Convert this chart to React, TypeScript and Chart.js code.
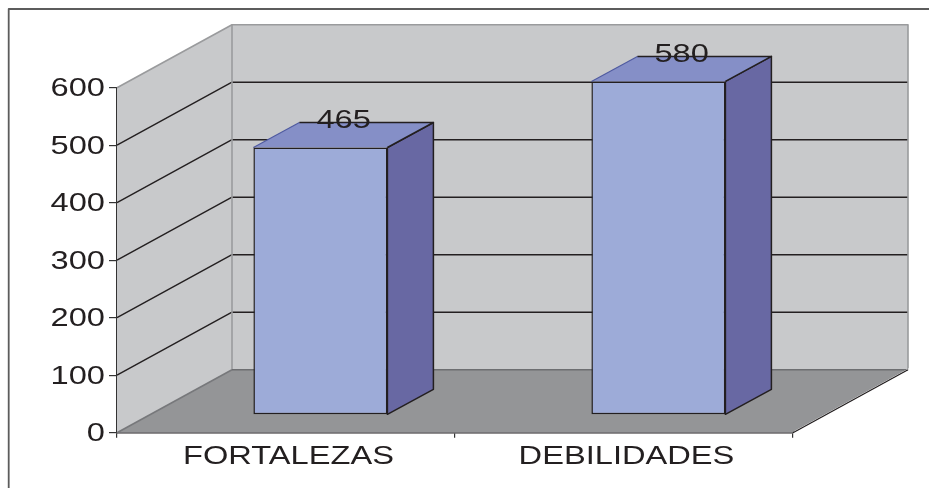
import React, { useEffect, useRef } from "react";
import { Chart, registerables } from "chart.js";

Chart.register(...registerables);

const categories = ["FORTALEZAS", "DEBILIDADES"];
const values = [465, 580];
const yMax = 600;
const yStep = 100;

const WALL = { dx: 115, dy: -63 };
const BAR_SHIFT = { dx: 34.4, dy: -17.8 };
const BAR_DEPTH = { dx: 46, dy: -25 };
const STRETCH = 1.305;
const FONT = '25px "Liberation Sans", Arial, sans-serif';
const INK = "#231f20";
const EDGE_GRAY = "#9a9b9d";

function poly(ctx: CanvasRenderingContext2D, pts: number[][], fill?: string, stroke?: string, lw = 1.3) {
  ctx.beginPath();
  pts.forEach((p, i) => (i ? ctx.lineTo(p[0], p[1]) : ctx.moveTo(p[0], p[1])));
  if (fill) {
    ctx.closePath();
    ctx.fillStyle = fill;
    ctx.fill();
  }
  if (stroke) {
    ctx.strokeStyle = stroke;
    ctx.lineWidth = lw;
    ctx.lineJoin = "round";
    ctx.stroke();
  }
}

function wideText(ctx: CanvasRenderingContext2D, text: string, x: number, y: number, align: CanvasTextAlign) {
  ctx.save();
  ctx.font = FONT;
  ctx.fillStyle = INK;
  ctx.textAlign = align;
  ctx.textBaseline = "middle";
  ctx.translate(x, y + 1.5);
  ctx.scale(STRETCH, 1);
  ctx.fillText(text, 0, 0);
  ctx.restore();
}

const scene3d = {
  id: "scene3d",
  beforeDraw(chart: any) {
    const ctx = chart.ctx as CanvasRenderingContext2D;
    ctx.save();
    ctx.fillStyle = "#ffffff";
    ctx.fillRect(0, 0, chart.width, chart.height);
    // frame (open at right and bottom in the reference)
    poly(ctx, [[8.7, 488], [8.7, 9], [929, 9]], undefined, "#5c5c5c", 1.8);
    ctx.restore();
  },
  beforeDatasetsDraw(chart: any) {
    const ctx = chart.ctx as CanvasRenderingContext2D;
    const { left, right, top, bottom } = chart.chartArea;
    const y = chart.scales.y;
    const { dx, dy } = WALL;
    ctx.save();
    // walls and floor
    poly(ctx, [[left, bottom], [left, top], [left + dx, top + dy], [left + dx, bottom + dy]], "#c8c9cb");
    poly(ctx, [[left + dx, top + dy], [right + dx, top + dy], [right + dx, bottom + dy], [left + dx, bottom + dy]], "#c8c9cb");
    poly(ctx, [[left, bottom], [right, bottom], [right + dx, bottom + dy], [left + dx, bottom + dy]], "#949597");
    // value grid lines
    y.ticks.forEach((t: any) => {
      if (t.value === 0 || t.value === yMax) return;
      const p = y.getPixelForValue(t.value);
      poly(ctx, [[left, p], [left + dx, p + dy], [right + dx, p + dy]], undefined, INK, 1.4);
    });
    // wall edges
    poly(ctx, [[left, top], [left + dx, top + dy], [right + dx, top + dy], [right + dx, bottom + dy]], undefined, EDGE_GRAY, 1.6);
    poly(ctx, [[left + dx, top + dy], [left + dx, bottom + dy]], undefined, EDGE_GRAY, 1.6);
    poly(ctx, [[left + dx, bottom + dy], [right + dx, bottom + dy]], undefined, "#6d6e71", 1.4);
    poly(ctx, [[left, bottom], [left + dx, bottom + dy]], undefined, "#77787b", 1.6);
    poly(ctx, [[right + 1, bottom - 1], [right + dx + 1, bottom + dy - 1]], undefined, "#ffffff", 1);
    poly(ctx, [[right, bottom], [right + dx, bottom + dy]], undefined, INK, 1.3);
    // side and top faces of the bars
    chart.getDatasetMeta(0).data.forEach((bar: any) => {
      const half = bar.width / 2;
      const x0 = bar.x - half + BAR_SHIFT.dx;
      const x1 = bar.x + half + BAR_SHIFT.dx;
      const yt = bar.y + BAR_SHIFT.dy;
      const yb = bar.base + BAR_SHIFT.dy;
      const d = BAR_DEPTH;
      poly(ctx, [[x1, yt], [x1 + d.dx, yt + d.dy], [x1 + d.dx, yb + d.dy], [x1, yb]], "#6868a3", INK, 1.5);
      poly(ctx, [[x0, yt], [x0 + d.dx, yt + d.dy], [x1 + d.dx, yt + d.dy], [x1, yt]], "#858fc7");
      poly(ctx, [[x0, yt], [x0 + d.dx, yt + d.dy]], undefined, "#4f5aa0", 1.1);
      poly(ctx, [[x0 + d.dx, yt + d.dy], [x1 + d.dx, yt + d.dy], [x1, yt]], undefined, INK, 1.5);
    });
    ctx.restore();
  },
  beforeDatasetDraw(chart: any) {
    chart.ctx.save();
    chart.ctx.translate(BAR_SHIFT.dx, BAR_SHIFT.dy);
  },
  afterDatasetDraw(chart: any) {
    chart.ctx.restore();
  },
  afterDraw(chart: any) {
    const ctx = chart.ctx as CanvasRenderingContext2D;
    const { x, y } = chart.scales;
    y.ticks.forEach((t: any) => wideText(ctx, String(t.value), 105, y.getPixelForValue(t.value), "right"));
    categories.forEach((c, i) => wideText(ctx, c, x.getPixelForTick(i) + 2.5, 456, "center"));
    chart.getDatasetMeta(0).data.forEach((bar: any, i: number) => {
      wideText(ctx, String(values[i]), bar.x + BAR_SHIFT.dx + 23.2, bar.y + BAR_SHIFT.dy - 27.5, "center");
    });
  },
};

export default function App() {
  const ref = useRef<HTMLCanvasElement>(null);
  useEffect(() => {
    const chart = new Chart(ref.current as HTMLCanvasElement, {
      type: "bar",
      data: {
        labels: categories,
        datasets: [
          {
            data: values,
            backgroundColor: "#9dabd8",
            borderColor: INK,
            borderWidth: 1.5,
            borderSkipped: false,
            barPercentage: 134 / 338,
            categoryPercentage: 1,
            clip: false,
          } as any,
        ],
      },
      options: {
        responsive: false,
        animation: false,
        devicePixelRatio: 1,
        layout: { padding: { left: 0, top: 87.7, right: 136, bottom: 0 } },
        plugins: { legend: { display: false }, tooltip: { enabled: false } },
        scales: {
          x: {
            afterFit: (s: any) => {
              s.height = 55.3;
            },
            grid: { drawOnChartArea: false, drawTicks: true, tickLength: 5, color: "#333333", lineWidth: 1.2 },
            border: { display: true, color: INK, width: 1.6 },
            ticks: { display: false },
          },
          y: {
            min: 0,
            max: yMax,
            afterFit: (s: any) => {
              s.width = 117;
            },
            grid: { drawOnChartArea: false, drawTicks: true, tickLength: 8, color: "#333333", lineWidth: 1.2 },
            border: { display: true, color: "#333333", width: 1.6 },
            ticks: { display: false, stepSize: yStep },
          },
        },
      } as any,
      plugins: [scene3d],
    });
    return () => chart.destroy();
  }, []);
  return (
    <canvas
      ref={ref}
      width={929}
      height={488}
      style={{ position: "fixed", left: 0, top: 0, width: 929, height: 488, display: "block" }}
    />
  );
}
